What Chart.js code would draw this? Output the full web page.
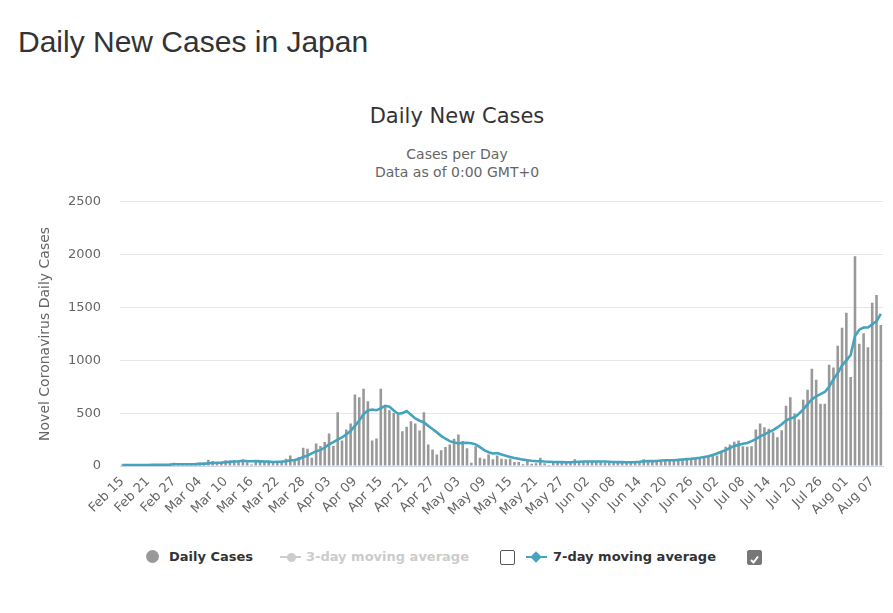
<!DOCTYPE html>
<html>
<head>
<meta charset="utf-8">
<title>Daily New Cases in Japan</title>
<script src="https://cdn.jsdelivr.net/npm/chart.js@4.4.1/dist/chart.umd.min.js"></script>
<style>
  body { margin: 0; background: #ffffff; }
  #page { position: relative; width: 893px; height: 613px; overflow: hidden; font-family: "DejaVu Sans", sans-serif; }
  #pageTitle { position: absolute; left: 18px; top: 25px; margin: 0; font: 30px/34px "Liberation Sans", Arial, sans-serif; color: #333333; font-weight: normal; }
  #chartTitle { position: absolute; left: 0; width: 914px; top: 104px; text-align: center; font-size: 21px; line-height: 24px; color: #333333; }
  #chartSub { position: absolute; left: 0; width: 914px; top: 145px; text-align: center; font-size: 14px; line-height: 18px; color: #666666; }
  #chartBox { position: absolute; left: 0; top: 175px; width: 893px; height: 355px; }
  .lg { position: absolute; top: 549px; font-size: 13px; line-height: 16px; font-weight: bold; }
  .dot { position: absolute; left: 146px; top: 550px; width: 13px; height: 13px; border-radius: 50%; background: #999999; }
  .mline { position: absolute; top: 556px; width: 21px; height: 2px; }
  .mdot { position: absolute; left: 287px; top: 553px; width: 9px; height: 9px; border-radius: 50%; background: #cccccc; }
  .mdia { position: absolute; left: 532px; top: 553px; width: 8px; height: 8px; background: #45a3be; transform: rotate(45deg); }
  .box { position: absolute; top: 550px; width: 13px; height: 13px; border: 1px solid #555555; border-radius: 2px; background: #ffffff; }
  .box.on { background: #777777; border-color: #777777; }
</style>
</head>
<body>
<div id="page">
  <h1 id="pageTitle">Daily New Cases in Japan</h1>
  <div id="chartTitle">Daily New Cases</div>
  <div id="chartSub">Cases per Day<br>Data as of 0:00 GMT+0</div>
  <div id="chartBox"><canvas id="casesChart"></canvas></div>

  <!-- legend -->
  <span class="dot"></span>
  <span class="lg" style="left:169px;color:#333333">Daily Cases</span>
  <span class="mline" style="left:280px;background:#cccccc"></span>
  <span class="mdot"></span>
  <span class="lg" style="left:306px;color:#cccccc">3-day moving average</span>
  <span class="box" style="left:500px"></span>
  <span class="mline" style="left:526px;background:#45a3be"></span>
  <span class="mdia"></span>
  <span class="lg" style="left:553px;color:#333333">7-day moving average</span>
  <span class="box on" style="left:747px">
    <svg width="13" height="13" viewBox="0 0 13 13"><path d="M3 7 L5.5 9.5 L10 3.5" stroke="#ffffff" stroke-width="2" fill="none"/></svg>
  </span>
</div>

<script>
// dates (Feb 15 - Aug 09)
const dates = [
  "Feb 15", "Feb 16", "Feb 17", "Feb 18", "Feb 19", "Feb 20", "Feb 21", "Feb 22", "Feb 23", "Feb 24", "Feb 25", "Feb 26", "Feb 27", "Feb 28", "Feb 29",
  "Mar 01", "Mar 02", "Mar 03", "Mar 04", "Mar 05", "Mar 06", "Mar 07", "Mar 08", "Mar 09", "Mar 10", "Mar 11", "Mar 12", "Mar 13", "Mar 14", "Mar 15", "Mar 16",
  "Mar 17", "Mar 18", "Mar 19", "Mar 20", "Mar 21", "Mar 22", "Mar 23", "Mar 24", "Mar 25", "Mar 26", "Mar 27", "Mar 28", "Mar 29", "Mar 30", "Mar 31",
  "Apr 01", "Apr 02", "Apr 03", "Apr 04", "Apr 05", "Apr 06", "Apr 07", "Apr 08", "Apr 09", "Apr 10", "Apr 11", "Apr 12", "Apr 13", "Apr 14", "Apr 15",
  "Apr 16", "Apr 17", "Apr 18", "Apr 19", "Apr 20", "Apr 21", "Apr 22", "Apr 23", "Apr 24", "Apr 25", "Apr 26", "Apr 27", "Apr 28", "Apr 29", "Apr 30",
  "May 01", "May 02", "May 03", "May 04", "May 05", "May 06", "May 07", "May 08", "May 09", "May 10", "May 11", "May 12", "May 13", "May 14", "May 15", "May 16",
  "May 17", "May 18", "May 19", "May 20", "May 21", "May 22", "May 23", "May 24", "May 25", "May 26", "May 27", "May 28", "May 29", "May 30", "May 31",
  "Jun 01", "Jun 02", "Jun 03", "Jun 04", "Jun 05", "Jun 06", "Jun 07", "Jun 08", "Jun 09", "Jun 10", "Jun 11", "Jun 12", "Jun 13", "Jun 14", "Jun 15",
  "Jun 16", "Jun 17", "Jun 18", "Jun 19", "Jun 20", "Jun 21", "Jun 22", "Jun 23", "Jun 24", "Jun 25", "Jun 26", "Jun 27", "Jun 28", "Jun 29", "Jun 30",
  "Jul 01", "Jul 02", "Jul 03", "Jul 04", "Jul 05", "Jul 06", "Jul 07", "Jul 08", "Jul 09", "Jul 10", "Jul 11", "Jul 12", "Jul 13", "Jul 14", "Jul 15", "Jul 16",
  "Jul 17", "Jul 18", "Jul 19", "Jul 20", "Jul 21", "Jul 22", "Jul 23", "Jul 24", "Jul 25", "Jul 26", "Jul 27", "Jul 28", "Jul 29", "Jul 30", "Jul 31",
  "Aug 01", "Aug 02", "Aug 03", "Aug 04", "Aug 05", "Aug 06", "Aug 07", "Aug 08", "Aug 09"
];

const dailyCases = [
  12, 6, 6, 8, 8, 11, 9, 12, 12, 12, 10, 19, 31, 24, 9,
  14, 17, 19, 33, 33, 59, 47, 33, 26, 54, 52, 55, 41, 61, 35, 15,
  43, 39, 39, 35, 35, 45, 45, 69, 100, 63, 85, 173, 163, 79, 214,
  189, 226, 308, 189, 509, 242, 346, 402, 676, 651, 732, 613, 242, 261, 732,
  572, 528, 503, 487, 330, 371, 424, 402, 336, 509, 204, 157, 110, 148, 179,
  204, 258, 299, 236, 167, 30, 188, 78, 69, 110, 63, 100, 69, 63, 69, 38,
  38, 16, 47, 22, 25, 78, 25, 10, 38, 38, 31, 38, 38, 63, 38,
  47, 38, 47, 38, 47, 31, 31, 31, 38, 38, 31, 38, 38, 47, 63,
  57, 38, 47, 57, 57, 63, 47, 57, 63, 69, 69, 72, 79, 88, 88,
  110, 100, 141, 182, 204, 229, 242, 188, 182, 188, 345, 402, 367, 352, 320, 273,
  339, 571, 650, 496, 440, 628, 722, 920, 816, 590, 590, 958, 933, 1137, 1309,
  1451, 842, 1984, 1156, 1256, 1124, 1545, 1617, 1335
];

const avg7 = [
  9, 9, 9, 10, 10, 10, 10, 11, 11, 11, 12, 13, 16, 17, 16,
  16, 17, 18, 20, 20, 26, 29, 31, 32, 36, 39, 42, 45, 49, 46, 45,
  46, 44, 42, 41, 38, 40, 41, 45, 53, 57, 67, 85, 100, 120, 140,
  150, 175, 205, 225, 250, 270, 300, 330, 380, 430, 490, 525, 535, 528, 545,
  570, 562, 525, 495, 500, 520, 485, 450, 428, 412, 380, 350, 318, 285, 258,
  235, 222, 215, 218, 220, 215, 205, 178, 150, 130, 118, 122, 108, 96, 86, 76,
  68, 60, 55, 50, 46, 45, 42, 40, 38, 38, 37, 36, 36, 38, 40,
  42, 42, 43, 42, 43, 42, 40, 38, 37, 37, 36, 36, 37, 40, 44,
  47, 46, 48, 52, 54, 55, 55, 58, 62, 65, 68, 72, 78, 85, 92,
  105, 118, 135, 150, 170, 190, 200, 210, 218, 235, 255, 280, 300, 320, 340, 365,
  395, 430, 450, 460, 495, 535, 585, 630, 660, 680, 700, 750, 820, 880, 950,
  1000, 1050, 1230, 1290, 1310, 1310, 1340, 1370, 1440
];

const tickLabels = [
  "Feb 15", "Feb 21", "Feb 27", "Mar 04", "Mar 10", "Mar 16", "Mar 22", "Mar 28",
  "Apr 03", "Apr 09", "Apr 15", "Apr 21", "Apr 27", "May 03", "May 09", "May 15",
  "May 21", "May 27", "Jun 02", "Jun 08", "Jun 14", "Jun 20", "Jun 26", "Jul 02",
  "Jul 08", "Jul 14", "Jul 20", "Jul 26", "Aug 01", "Aug 07"
];
const yTicks = [0, 500, 1000, 1500, 2000, 2500];

function drawGrafico() {
  var canvas = document.getElementById("casesChart");
  if (!canvas) return;
  const ctx = canvas.getContext("2d");

  Chart.defaults.font.family = '"DejaVu Sans", sans-serif';

  new Chart(ctx, {
    data: {
      labels: dates,
      datasets: [
        {
          type: "line",
          label: "7-day moving average",
          data: avg7,
          borderColor: "#45a3be",
          borderWidth: 2.6,
          pointRadius: 0,
          tension: 0,
          fill: false,
          order: 0,
        },
        {
          type: "bar",
          label: "Daily Cases",
          data: dailyCases,
          backgroundColor: "#999999",
          barPercentage: 0.6,
          categoryPercentage: 1,
          order: 1,
        },
      ],
    },
    options: {
      responsive: true,
      maintainAspectRatio: false,
      animation: false,
      layout: {
        padding: { left: 33, right: 10, top: 11, bottom: 0 },
      },
      plugins: {
        legend: { display: false },
        tooltip: { enabled: false },
      },
      scales: {
        x: {
          grid: { display: false, drawTicks: false },
          border: { display: true, color: "#ccd6eb" },
          ticks: {
            autoSkip: false,
            minRotation: 45,
            maxRotation: 45,
            padding: 8,
            color: "#666666",
            font: { size: 13 },
            callback: function (val) {
              const lab = this.getLabelForValue(val);
              return tickLabels.indexOf(lab) >= 0 ? lab : "";
            },
          },
          afterFit: function (scale) {
            scale.height = 64;
            // no extra side room for the rotated labels
            scale.paddingLeft = 0;
            scale.paddingRight = 0;
          },
        },
        y: {
          min: yTicks[0],
          max: yTicks[yTicks.length - 1],
          afterBuildTicks: function (scale) {
            scale.ticks = yTicks.map(function (v) { return { value: v }; });
          },
          grid: { color: "#e6e6e6", drawTicks: false },
          border: { display: false },
          ticks: {
            padding: 19,
            color: "#666666",
            font: { size: 13 },
            callback: function (val) {
              return String(val);
            },
          },
          title: {
            display: true,
            text: "Novel Coronavirus Daily Cases",
            color: "#666666",
            font: { size: 14 },
          },
          afterFit: function (scale) {
            scale.width = 87;
          },
        },
      },
    },
  });
}

drawGrafico();
</script>
</body>
</html>
